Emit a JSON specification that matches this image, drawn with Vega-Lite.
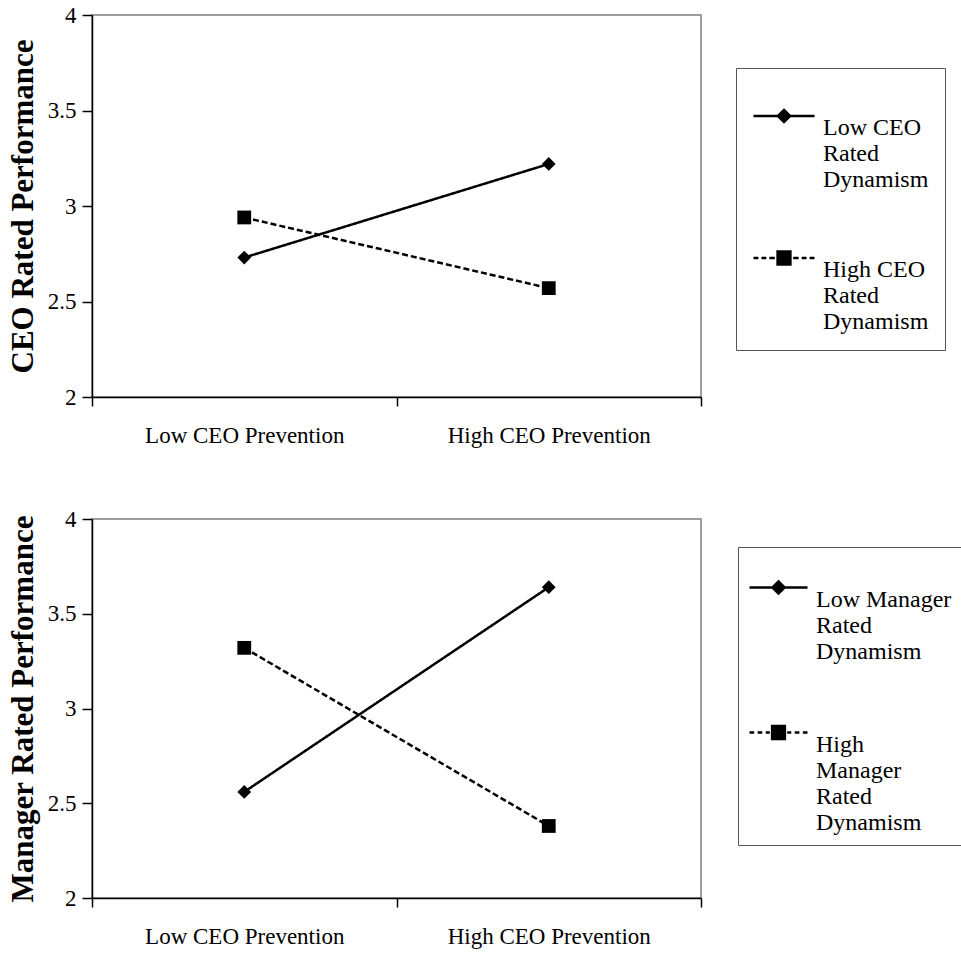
{
  "$schema": "https://vega.github.io/schema/vega-lite/v6.json",
  "background": "white",
  "padding": {"left": 6, "top": 3, "right": 0, "bottom": 0},
  "spacing": 59,
  "config": {
    "view": {"stroke": "#7f7f7f", "strokeWidth": 1.5},
    "axis": {"domainColor": "black", "domainWidth": 1.5, "tickColor": "black", "tickWidth": 1.5, "labelFont": "Liberation Serif", "labelFontSize": 23, "labelColor": "black", "labelLimit": 0, "titleFont": "Liberation Serif", "titleFontSize": 31, "titleFontWeight": "bold", "titleColor": "black", "grid": false},
    "legend": {"labelFont": "Liberation Serif", "labelFontSize": 24, "labelColor": "black", "labelLimit": 0, "labelBaseline": "top", "strokeColor": "#555", "labelOffset": 7, "fillColor": "white", "symbolStrokeColor": "black", "symbolStrokeWidth": 2.5, "symbolOpacity": 1}
  },
  "resolve": {"scale": {"shape": "independent", "strokeDash": "independent", "x": "independent", "y": "independent"}, "legend": {"shape": "independent", "strokeDash": "independent"}},
  "vconcat": [
    {
      "width": 609,
      "height": 382,
      "data": {"values": [
        {"prevention": "Low CEO Prevention", "series": "Low CEO Rated Dynamism", "perf": 2.73},
        {"prevention": "High CEO Prevention", "series": "Low CEO Rated Dynamism", "perf": 3.22},
        {"prevention": "Low CEO Prevention", "series": "High CEO Rated Dynamism", "perf": 2.94},
        {"prevention": "High CEO Prevention", "series": "High CEO Rated Dynamism", "perf": 2.57}
      ]},
      "encoding": {
        "x": {"field": "prevention", "type": "nominal", "sort": ["Low CEO Prevention", "High CEO Prevention"], "scale": {"paddingInner": 0, "paddingOuter": 0}, "axis": {"title": null, "labelAngle": 0, "tickBand": "extent", "tickSize": 9, "labelPadding": 18}},
        "y": {"field": "perf", "type": "quantitative", "scale": {"domain": [2, 4]}, "axis": {"title": "CEO Rated Performance", "values": [2, 2.5, 3, 3.5, 4], "format": "~g", "tickSize": 10, "labelPadding": 6, "titlePadding": 8}}
      },
      "resolve": {"scale": {"shape": "independent", "strokeDash": "independent"}, "legend": {"shape": "independent", "strokeDash": "independent"}},
      "layer": [
        {
          "mark": {"type": "line", "color": "black", "strokeWidth": 2.5},
          "encoding": {"strokeDash": {"field": "series", "type": "nominal", "scale": {"domain": ["Low CEO Rated Dynamism", "High CEO Rated Dynamism"], "range": [[1, 0], [6, 3]]}, "legend": null}}
        },
        {
          "mark": {"type": "point", "filled": true, "color": "black", "opacity": 1, "size": 190},
          "encoding": {"shape": {"field": "series", "type": "nominal", "scale": {"domain": ["Low CEO Rated Dynamism", "High CEO Rated Dynamism"], "range": ["diamond", "square"]}, "legend": null}}
        },
        {
          "mark": {"type": "point", "filled": false, "color": "black", "opacity": 1, "strokeWidth": 2.5, "size": 0},
          "encoding": {"shape": {"field": "series", "type": "nominal",
            "scale": {"domain": ["Low CEO Rated Dynamism", "High CEO Rated Dynamism"], "range": ["M-1,0L1,0M0,-0.2L0.2,0L0,0.2L-0.2,0ZM0,-0.13L0.13,0L0,0.13L-0.13,0ZM0,-0.06L0.06,0L0,0.06L-0.06,0Z", "M-1,0L-0.84,0M-0.74,0L-0.58,0M-0.48,0L-0.3,0M0.3,0L0.48,0M0.58,0L0.74,0M0.84,0L1,0M-0.21,-0.21L0.21,-0.21L0.21,0.21L-0.21,0.21ZM-0.14,-0.14L0.14,-0.14L0.14,0.14L-0.14,0.14ZM-0.07,-0.07L0.07,-0.07L0.07,0.07L-0.07,0.07ZM-0.21,0L0.21,0"]},
            "legend": {"title": null, "orient": "none", "legendX": 644, "legendY": 53, "padding": 16, "rowPadding": 34, "symbolSize": 3721,
              "labelExpr": "datum.value == 'Low CEO Rated Dynamism' ? ['Low CEO', 'Rated', 'Dynamism'] : ['High CEO', 'Rated', 'Dynamism']"}}}
        }
      ]
    },
    {
      "width": 609,
      "height": 379,
      "data": {"values": [
        {"prevention": "Low CEO Prevention", "series": "Low Manager Rated Dynamism", "perf": 2.56},
        {"prevention": "High CEO Prevention", "series": "Low Manager Rated Dynamism", "perf": 3.64},
        {"prevention": "Low CEO Prevention", "series": "High Manager Rated Dynamism", "perf": 3.32},
        {"prevention": "High CEO Prevention", "series": "High Manager Rated Dynamism", "perf": 2.38}
      ]},
      "encoding": {
        "x": {"field": "prevention", "type": "nominal", "sort": ["Low CEO Prevention", "High CEO Prevention"], "scale": {"paddingInner": 0, "paddingOuter": 0}, "axis": {"title": null, "labelAngle": 0, "tickBand": "extent", "tickSize": 9, "labelPadding": 18}},
        "y": {"field": "perf", "type": "quantitative", "scale": {"domain": [2, 4]}, "axis": {"title": "Manager Rated Performance", "values": [2, 2.5, 3, 3.5, 4], "format": "~g", "tickSize": 10, "labelPadding": 6, "titlePadding": 8}}
      },
      "resolve": {"scale": {"shape": "independent", "strokeDash": "independent"}, "legend": {"shape": "independent", "strokeDash": "independent"}},
      "layer": [
        {
          "mark": {"type": "line", "color": "black", "strokeWidth": 2.5},
          "encoding": {"strokeDash": {"field": "series", "type": "nominal", "scale": {"domain": ["Low Manager Rated Dynamism", "High Manager Rated Dynamism"], "range": [[1, 0], [6, 3]]}, "legend": null}}
        },
        {
          "mark": {"type": "point", "filled": true, "color": "black", "opacity": 1, "size": 190},
          "encoding": {"shape": {"field": "series", "type": "nominal", "scale": {"domain": ["Low Manager Rated Dynamism", "High Manager Rated Dynamism"], "range": ["diamond", "square"]}, "legend": null}}
        },
        {
          "mark": {"type": "point", "filled": false, "color": "black", "opacity": 1, "strokeWidth": 2.5, "size": 0},
          "encoding": {"shape": {"field": "series", "type": "nominal",
            "scale": {"domain": ["Low Manager Rated Dynamism", "High Manager Rated Dynamism"], "range": ["M-1,0L1,0M0,-0.21L0.21,0L0,0.21L-0.21,0ZM0,-0.14L0.14,0L0,0.14L-0.14,0ZM0,-0.07L0.07,0L0,0.07L-0.07,0Z", "M-1,0L-0.84,0M-0.72,0L-0.56,0M-0.44,0L-0.3,0M0.3,0L0.44,0M0.56,0L0.72,0M0.84,0L1,0M-0.22,-0.22L0.22,-0.22L0.22,0.22L-0.22,0.22ZM-0.15,-0.15L0.15,-0.15L0.15,0.15L-0.15,0.15ZM-0.08,-0.08L0.08,-0.08L0.08,0.08L-0.08,0.08ZM-0.22,0L0.22,0"]},
            "legend": {"title": null, "orient": "none", "legendX": 646, "legendY": 28, "padding": 10, "rowPadding": 38, "symbolSize": 3364,
              "labelExpr": "datum.value == 'Low Manager Rated Dynamism' ? ['Low Manager', 'Rated', 'Dynamism'] : ['High', 'Manager', 'Rated', 'Dynamism']"}}}
        }
      ]
    }
  ]
}
